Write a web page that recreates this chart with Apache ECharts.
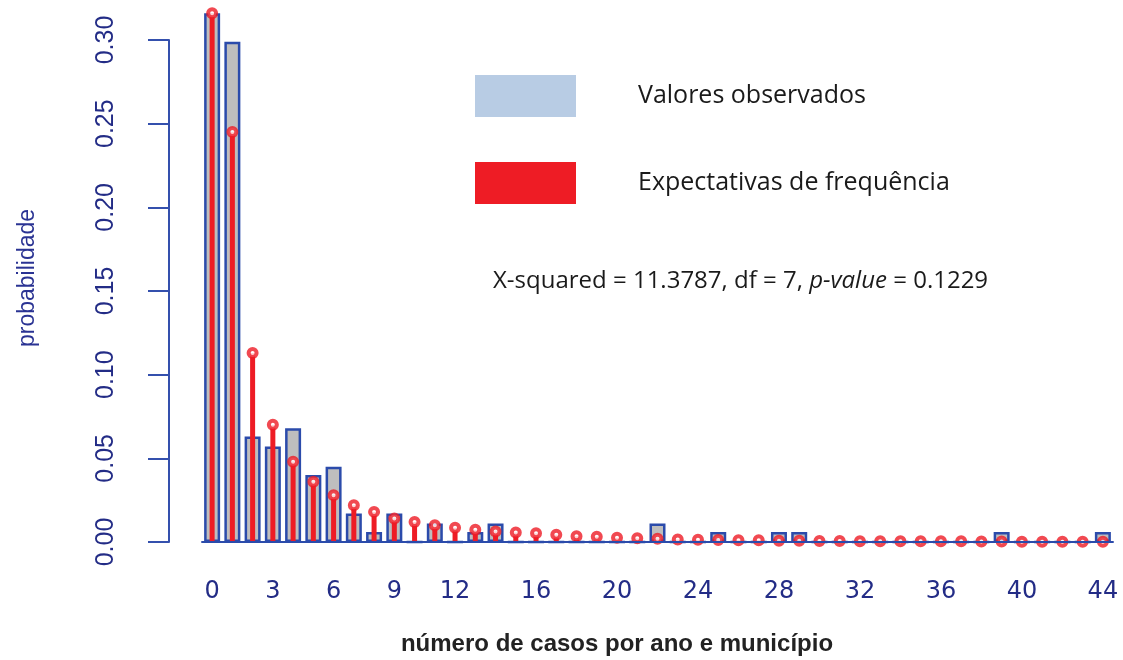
<!DOCTYPE html>
<html>
<head>
<meta charset="utf-8">
<title>probabilidade</title>
<script src="https://cdn.jsdelivr.net/npm/echarts@6/dist/echarts.min.js"></script>
<style>
  html, body { margin: 0; padding: 0; background: #fff; }
  #chart { width: 1123px; height: 660px; }
</style>
</head>
<body>
<div id="chart"></div>
<script>
// número de casos (categorias do eixo x)
const casos = ['0', '1', '2', '3', '4', '5', '6', '7', '8', '9', '10', '11', '12', '13', '14',
  '15', '16', '17', '18', '19', '20', '21', '22', '23', '24', '25', '26', '27', '28', '29',
  '30', '31', '32', '33', '34', '35', '36', '37', '38', '39', '40', '41', '42', '43', '44']

// rótulos visíveis no eixo x
const xTickLabels = ['0', '3', '6', '9', '12', '16', '20', '24', '28', '32', '36', '40', '44']

// valores observados (barras cinzas)
const observados = [0.316, 0.299, 0.063, 0.057, 0.068, 0.040, 0.045, 0.017, 0.006, 0.017,
  0, 0.011, 0, 0.006, 0.011, 0, 0, 0, 0, 0,
  0, 0, 0.011, 0, 0, 0.006, 0, 0, 0.006, 0.006,
  0, 0, 0, 0, 0, 0, 0, 0, 0, 0.006,
  0, 0, 0, 0, 0.006]

// expectativas de frequência (hastes vermelhas)
const esperados = [0.316, 0.245, 0.113, 0.070, 0.048, 0.036, 0.028, 0.022, 0.018, 0.014,
  0.012, 0.010, 0.0085, 0.0073, 0.0063, 0.0057, 0.0052, 0.0044, 0.0035, 0.0032,
  0.0025, 0.0022, 0.0020, 0.0015, 0.0013, 0.0012, 0.0011, 0.0010, 0.0008, 0.0007,
  0.0006, 0.0006, 0.0005, 0.0005, 0.0005, 0.0004, 0.0004, 0.0004, 0.0003, 0.0003,
  0.0002, 0.0002, 0.0002, 0.0001, 0.0001]

const yTicks = [0, 0.05, 0.10, 0.15, 0.20, 0.25, 0.30]

const axisBlue = '#3450ad'
const labelBlue = '#232c86'
const red = '#ee1c25'

const chart = echarts.init(document.getElementById('chart'))

const option = {
  animation: false,
  backgroundColor: '#fff',
  title: [
    {
      text: 'número de casos por ano e município',
      left: 612,
      top: 627,
      textAlign: 'center',
      textStyle: {
        fontFamily: 'Liberation Sans, Arial, sans-serif',
        fontWeight: 'bold',
        fontSize: 24,
        color: '#222'
      }
    },
    {
      text: 'X-squared = 11.3787, df = 7, {i|p-value} = 0.1229',
      left: 488,
      top: 264,
      textStyle: {
        fontFamily: 'Open Sans, sans-serif',
        fontWeight: 'normal',
        fontSize: 24,
        color: '#1a1a1a',
        rich: {
          i: {
            fontFamily: 'Open Sans, sans-serif',
            fontStyle: 'italic',
            fontSize: 24,
            color: '#1a1a1a'
          }
        }
      }
    }
  ],
  graphic: [
    {
      type: 'text',
      x: 28,
      y: 278,
      rotation: Math.PI / 2,
      style: {
        text: 'probabilidade',
        align: 'center',
        verticalAlign: 'middle',
        font: '23px "Liberation Sans", Arial, sans-serif',
        fill: '#2a3393'
      }
    }
  ],
  legend: {
    orient: 'vertical',
    left: 470,
    top: 70,
    itemWidth: 101,
    itemHeight: 42,
    itemGap: 45,
    selectedMode: false,
    textStyle: {
      fontFamily: 'Open Sans, sans-serif',
      fontSize: 25,
      color: '#1a1a1a',
      padding: [0, 0, 0, 57]
    },
    data: [
      { name: 'Valores observados', icon: 'rect', itemStyle: { color: '#b8cce4', borderWidth: 0 } },
      { name: 'Expectativas de frequência', icon: 'rect', itemStyle: { color: red, borderWidth: 0 } }
    ]
  },
  grid: {
    left: 202,
    top: 40,
    width: 911,
    height: 502
  },
  xAxis: [
    {
      type: 'category',
      data: casos,
      offset: 6,
      axisLine: { lineStyle: { color: axisBlue, width: 2 } },
      axisTick: {
        interval: 0,
        alignWithLabel: true,
        length: 13,
        lineStyle: { color: axisBlue, width: 2 }
      },
      axisLabel: {
        interval: (index, value) => xTickLabels.includes(value),
        margin: 32,
        fontFamily: 'DejaVu Sans, sans-serif',
        fontSize: 24,
        color: labelBlue
      },
      splitLine: { show: false }
    },
    {
      type: 'category',
      data: casos,
      show: false
    }
  ],
  yAxis: {
    type: 'value',
    min: 0,
    max: 0.30,
    interval: 0.05,
    offset: 33,
    axisLine: { show: true, lineStyle: { color: axisBlue, width: 2 } },
    axisTick: { show: true, length: 21, lineStyle: { color: axisBlue, width: 2 } },
    axisLabel: {
      rotate: 90,
      margin: 50,
      fontFamily: 'Liberation Sans, sans-serif',
      fontSize: 25,
      color: labelBlue,
      formatter: v => {
        const t = yTicks.find(k => Math.abs(k - v) < 1e-9)
        return t === undefined ? '' : t.toFixed(2)
      }
    },
    splitLine: { show: false }
  },
  series: [
    {
      name: 'Valores observados',
      type: 'bar',
      xAxisIndex: 0,
      data: observados,
      barWidth: 16,
      clip: false,
      itemStyle: {
        color: '#bebebe',
        borderColor: '#2b4bab',
        borderWidth: 2.5
      },
      markLine: {
        silent: true,
        symbol: 'none',
        label: { show: false },
        lineStyle: { color: '#2b4bab', width: 2, type: 'solid' },
        data: [{ yAxis: 0 }]
      }
    },
    {
      name: 'Expectativas de frequência',
      type: 'bar',
      xAxisIndex: 1,
      data: esperados,
      barWidth: 5,
      clip: false,
      z: 3,
      itemStyle: { color: red }
    },
    {
      name: 'esperados-pontos',
      type: 'scatter',
      xAxisIndex: 1,
      data: esperados,
      symbol: 'circle',
      symbolSize: 8,
      clip: false,
      z: 4,
      itemStyle: {
        color: '#fff',
        borderColor: red,
        borderWidth: 4
      }
    }
  ]
}

chart.setOption(option)
</script>
</body>
</html>
